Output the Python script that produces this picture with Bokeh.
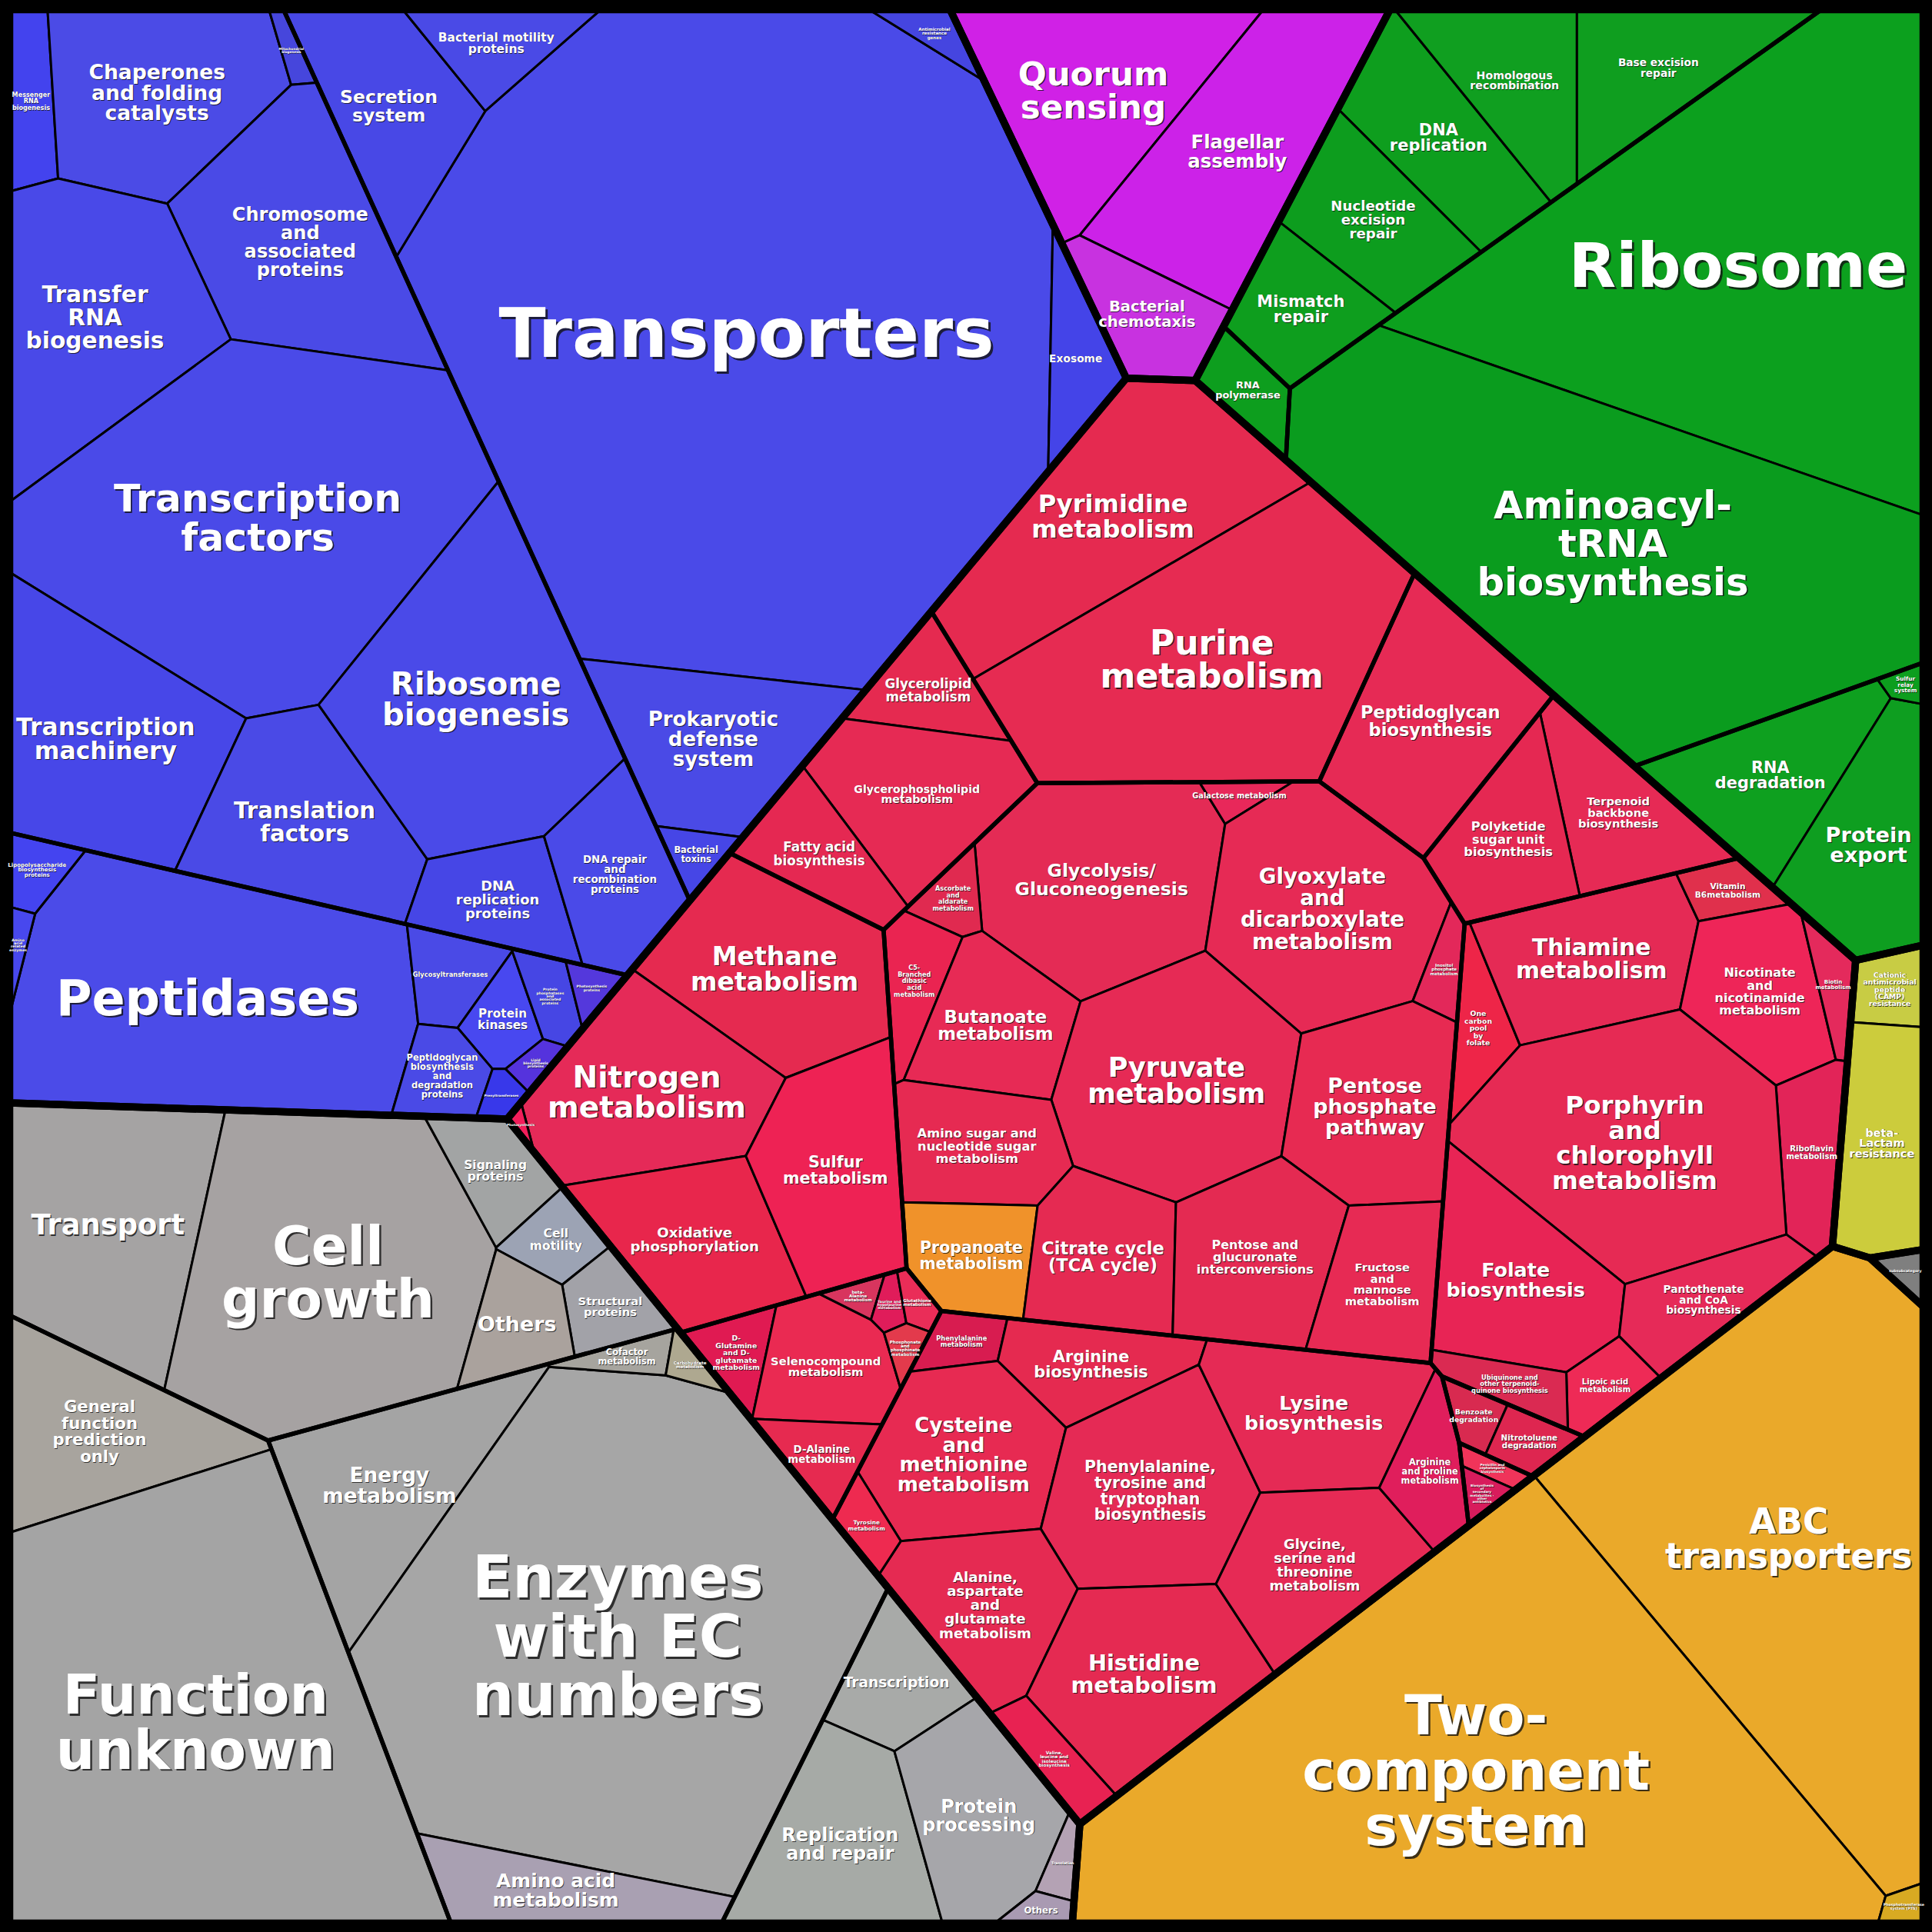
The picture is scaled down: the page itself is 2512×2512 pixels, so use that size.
import math
from bokeh.plotting import figure
from bokeh.models import ColumnDataSource, Range1d
from bokeh.core.properties import value, field
from bokeh.embed import file_html
from bokeh.resources import INLINE

# ---------------- data ----------------
top_groups = ["BRITE", "CellProc", "GenInfo", "Metab", "HumDis", "SubSub", "EnvInfo", "NotIncl"]

mid_groups = ["B_gen", "B_sig", "B_met",
              "G_transl", "G_rep", "G_transc", "G_fold",
              "M_nuc", "M_lip", "M_carb", "M_energy", "M_oaa", "M_aa", "M_cof", "M_xen", "M_sec", "M_terp", "M_glycan",
              "N_cell", "N_poor", "N_met", "N_gen"]
mid_parent = ["BRITE"] * 3 + ["GenInfo"] * 4 + ["Metab"] * 11 + ["NotIncl"] * 4

leaf_labels = [
    "Messenger\nRNA\nbiogenesis", "Chaperones\nand folding\ncatalysts", "Mitochondrial\nbiogenesis",
    "Chromosome\nand\nassociated\nproteins", "Transfer\nRNA\nbiogenesis", "Transcription\nfactors",
    "Transcription\nmachinery", "Translation\nfactors", "Ribosome\nbiogenesis", "DNA\nreplication\nproteins",
    "DNA repair\nand\nrecombination\nproteins",
    "Transporters", "Secretion\nsystem", "Bacterial motility\nproteins", "Antimicrobial\nresistance\ngenes",
    "Exosome", "Prokaryotic\ndefense\nsystem", "Bacterial\ntoxins",
    "Peptidases", "Lipopolysaccharide\nbiosynthesis\nproteins", "Amino\nacid\nrelated\nenzymes",
    "Glycosyltransferases", "Protein\nkinases", "Peptidoglycan\nbiosynthesis\nand\ndegradation\nproteins",
    "Protein\nphosphatases\nand\nassociated\nproteins", "Photosynthesis\nproteins", "Lipid\nbiosynthesis\nproteins",
    "Prenyltransferases",
    "Quorum\nsensing", "Flagellar\nassembly", "Bacterial\nchemotaxis",
    "Ribosome", "Aminoacyl-\ntRNA\nbiosynthesis", "DNA\nreplication", "Homologous\nrecombination",
    "Base excision\nrepair", "Nucleotide\nexcision\nrepair", "Mismatch\nrepair", "RNA\npolymerase",
    "RNA\ndegradation", "Protein\nexport", "Sulfur\nrelay\nsystem",
    "Pyrimidine\nmetabolism", "Purine\nmetabolism", "Glycerolipid\nmetabolism", "Glycerophospholipid\nmetabolism",
    "Fatty acid\nbiosynthesis", "Glycolysis/\nGluconeogenesis", "Galactose metabolism",
    "Glyoxylate\nand\ndicarboxylate\nmetabolism", "Inositol\nphosphate\nmetabolism", "Ascorbate\nand\naldarate\nmetabolism",
    "C5-\nBranched\ndibasic\nacid\nmetabolism", "Butanoate\nmetabolism", "Pyruvate\nmetabolism",
    "Pentose\nphosphate\npathway", "Amino sugar and\nnucleotide sugar\nmetabolism", "Propanoate\nmetabolism",
    "Citrate cycle\n(TCA cycle)", "Pentose and\nglucuronate\ninterconversions", "Fructose\nand\nmannose\nmetabolism",
    "Methane\nmetabolism", "Nitrogen\nmetabolism", "Photosynthesis", "Oxidative\nphosphorylation",
    "Sulfur\nmetabolism",
    "D-\nGlutamine\nand D-\nglutamate\nmetabolism", "Selenocompound\nmetabolism", "D-Alanine\nmetabolism",
    "beta-\nAlanine\nmetabolism", "Taurine and\nhypotaurine\nmetabolism", "Glutathione\nmetabolism",
    "Phosphonate\nand\nphosphinate\nmetabolism",
    "Phenylalanine\nmetabolism", "Arginine\nbiosynthesis", "Cysteine\nand\nmethionine\nmetabolism",
    "Phenylalanine,\ntyrosine and\ntryptophan\nbiosynthesis", "Lysine\nbiosynthesis",
    "Alanine,\naspartate\nand\nglutamate\nmetabolism", "Histidine\nmetabolism",
    "Glycine,\nserine and\nthreonine\nmetabolism", "Arginine\nand proline\nmetabolism",
    "Valine,\nleucine and\nisoleucine\nbiosynthesis", "Tyrosine\nmetabolism",
    "One\ncarbon\npool\nby\nfolate", "Thiamine\nmetabolism", "Vitamin\nB6metabolism",
    "Nicotinate\nand\nnicotinamide\nmetabolism", "Biotin\nmetabolism", "Riboflavin\nmetabolism",
    "Porphyrin\nand\nchlorophyll\nmetabolism", "Folate\nbiosynthesis", "Pantothenate\nand CoA\nbiosynthesis",
    "Lipoic acid\nmetabolism", "Ubiquinone and\nother terpenoid-\nquinone biosynthesis",
    "Benzoate\ndegradation", "Nitrotoluene\ndegradation",
    "Penicillin and\ncephalosporin\nbiosynthesis", "Biosynthesis\nof\nsecondary\nmetabolites -\nother\nantibiotics",
    "Terpenoid\nbackbone\nbiosynthesis", "Polyketide\nsugar unit\nbiosynthesis", "Peptidoglycan\nbiosynthesis",
    "Cationic\nantimicrobial\npeptide\n(CAMP)\nresistance", "beta-\nLactam\nresistance",
    "subsubcategory",
    "ABC\ntransporters", "Two-\ncomponent\nsystem", "Phosphotransferase\nsystem (PTS)",
    "Transport", "Cell\ngrowth", "Signaling\nproteins", "Cell\nmotility", "Structural\nproteins", "Others",
    "General\nfunction\nprediction\nonly", "Function\nunknown",
    "Energy\nmetabolism", "Enzymes\nwith EC\nnumbers", "Amino acid\nmetabolism", "Cofactor\nmetabolism",
    "Carbohydrate\nmetabolism",
    "Transcription", "Replication\nand repair", "Protein\nprocessing", "Translation", "Others",
]

leaf_parent = (["B_gen"] * 11 + ["B_sig"] * 7 + ["B_met"] * 10 + ["CellProc"] * 3
               + ["G_transl"] * 2 + ["G_rep"] * 5 + ["G_transc"] + ["G_fold"] * 3
               + ["M_nuc"] * 2 + ["M_lip"] * 3 + ["M_carb"] * 14 + ["M_energy"] * 5 + ["M_oaa"] * 7
               + ["M_aa"] * 11 + ["M_cof"] * 11 + ["M_xen"] * 2 + ["M_sec"] * 2 + ["M_terp"] * 2 + ["M_glycan"]
               + ["HumDis"] * 2 + ["SubSub"] + ["EnvInfo"] * 3
               + ["N_cell"] * 6 + ["N_poor"] * 2 + ["N_met"] * 5 + ["N_gen"] * 5)

leaf_values = [50, 240, 10, 293, 302, 784, 294, 218, 417, 93, 121,
               2253, 166, 66, 19, 62, 196, 20,
               571, 25, 9, 45, 35, 45, 26, 13, 10, 11,
               249, 283, 86,
               1010, 1037, 145, 130, 140, 130, 95, 40, 152, 162, 8,
               332, 534, 66, 163, 82,
               280, 13, 281, 22, 25, 49, 124, 295, 188, 121, 86, 135, 168, 111,
               231, 229, 3, 166, 190,
               34, 96, 42, 9, 9, 10, 10,
               26, 89, 182, 227, 168, 148, 214, 158, 59, 39, 22,
               45, 173, 28, 125, 25, 68, 412, 181, 88, 35, 35,
               18, 25, 9, 10, 119, 118, 222,
               33, 123, 10, 935, 1366, 9,
               308, 546, 61, 37, 47, 64, 193, 1023, 218, 1261, 110, 19, 11, 83, 183, 163, 14, 11]

# ---------------- layout hints (1568-unit canvas) ----------------
site_x = [24, 120, 222, 235, 75, 200, 95, 245, 380, 410, 500,
          615, 320, 400, 768, 878, 580, 568,
          165, 33, 15, 360, 405, 352, 448, 480, 433, 405,
          880, 1015, 970,
          1400, 1325, 1188, 1262, 1360, 1120, 1066, 1025, 1432, 1520, 1545,
          915, 985, 762, 752, 672,
          893, 1010, 1072, 1175, 777, 742, 810, 958, 1118, 797, 795, 905, 1025, 1125,
          618, 545, 424, 565, 686,
          595, 665, 662, 695, 718, 746, 732,
          772, 868, 785, 925, 1050, 795, 930, 1055, 1145, 858, 700,
          1207, 1297, 1410, 1425, 1488, 1472, 1330, 1237, 1370, 1297, 1222,
          1187, 1232, 1200, 1187, 1320, 1228, 1168,
          1537, 1528, 1543, 1440, 1207, 1540,
          82, 265, 402, 452, 492, 418, 72, 150, 310, 495, 455, 512, 557, 728, 672, 790, 862, 850]
site_y = [66, 60, 30, 180, 255, 425, 595, 665, 570, 722, 695,
          275, 95, 30, 28, 280, 595, 688,
          810, 705, 772, 788, 820, 865, 805, 797, 855, 883,
          60, 170, 262,
          215, 430, 100, 40, 40, 168, 237, 305, 625, 680, 545,
          415, 535, 553, 628, 688,
          712, 640, 740, 780, 722, 800, 828, 872, 898, 925, 1008, 1022, 1025, 1055,
          775, 878, 910, 1002, 950,
          1090, 1105, 1175, 1045, 1052, 1047, 1085,
          1078, 1100, 1185, 1220, 1160, 1300, 1365, 1283, 1205, 1430, 1238,
          815, 778, 725, 805, 790, 915, 925, 1040, 1055, 1128, 1130,
          1155, 1175, 1198, 1222, 660, 680, 585,
          795, 925, 1030, 1255, 1450, 1545,
          995, 1035, 960, 1015, 1065, 1078, 1175, 1420, 1205, 1335, 1535, 1102, 1110, 1377, 1505, 1472, 1503, 1548]
# power-diagram generator points for the group levels (unit layout, then placed on canvas)
top_site_unit = {"BRITE": (0.0, 0.0), "CellProc": (0.801, -0.383), "Metab": (0.767, 0.641),
                 "NotIncl": (-0.042, 1.298), "GenInfo": (1.393, -0.072), "EnvInfo": (1.352, 1.403),
                 "HumDis": (1.568, 0.706), "SubSub": (1.630, 1.097)}
TOP_ORIGIN = (330.0, 420.0)
TOP_SCALE = 670.0
mid_site = {"B_gen": (200, 400), "B_sig": (610, 213), "B_met": (110, 790),
            "M_cof": (1328, 895),
            "N_cell": (300, 1000), "N_poor": (82, 1450), "N_met": (391, 1333), "N_gen": (731, 1502)}

font_size = [5, 16.3, 2.6, 14.8, 18.2, 31, 19.3, 18, 24.7, 11, 8.2,
             55, 14.5, 9.5, 3.4, 8.5, 16, 7,
             39, 4.3, 2.9, 5.1, 9.4, 7.1, 2.8, 2.8, 2.8, 2.6,
             26.7, 15, 12,
             49, 30.5, 12.9, 8.7, 8.4, 11.2, 12.9, 7.9, 12.8, 16.7, 4.5,
             19.7, 27, 10.3, 8.7, 10.3,
             14.5, 6, 17, 3.4, 5, 5, 14, 21.5, 16.5, 10, 12.6, 13.8, 9.9, 9,
             20.3, 24, 2.6, 11.2, 12.7,
             5.7, 9.1, 8.2, 3.4, 2.8, 3.4, 3.4,
             5.1, 12.8, 16, 12.6, 15.6, 11.2, 17.7, 11, 7, 3.5, 4.5,
             5.7, 18.3, 6.5, 9.8, 4.3, 6.2, 20, 15.6, 8.4, 6.2, 5.1,
             5.7, 6.3, 2.6, 2.6, 9, 10, 13.9,
             5.7, 8.9, 2.9, 27.8, 44, 2.9,
             22.6, 42.4, 9.5, 9.6, 9, 16.5, 13, 43.5, 16.2, 47, 15.3, 7, 3.4, 11.4, 14.7, 14.7, 2.9, 7.1]
leaf_color = (["#4343ee", "#4b4be6", "#4646dc", "#4a4ae6", "#4949e8", "#4a4ae8", "#4747e8", "#4a4ae6", "#4a4ae8",
               "#4646e6", "#4a4ae8",
               "#4a4ae8", "#4848e6", "#4a4ae6", "#4545e0", "#4444e8", "#4a4ae6", "#4646e6",
               "#4b4be8", "#4444f0", "#4848ee", "#4a4ae6", "#4848f0", "#4a4ae6", "#4646e4", "#5438dc", "#5533dd",
               "#3838ea",
               "#d021e6", "#cc22e8", "#c832e0",
               "#0ca01e", "#0a9c1e", "#0e9e1e", "#109f20", "#0f9e1f", "#0d9d1e", "#0e9e1e", "#0d9e1e", "#0ea01f",
               "#0e9e20", "#0d9e1e",
               "#e52a50", "#e62b52", "#e52a50", "#e62a54", "#e52852",
               "#e42b55", "#e8285a", "#e62a55", "#e3285a", "#e02a50", "#ea2451", "#e72a55", "#e62a55", "#e72a52",
               "#e62a52", "#f0922a", "#e52a52", "#e42a52", "#e72a54",
               "#e52a50", "#e52a58", "#f21e5a", "#e8264c", "#ee2254",
               "#e01a52", "#ea2a52", "#e62a50", "#d8355e", "#e01c5a", "#ea2d58", "#e33a4c",
               "#d81c50", "#e52a50", "#e72a52", "#e52a55", "#e52a55", "#e52a52", "#e52a52", "#e62a55", "#e01e5c",
               "#e82252", "#ee2a50",
               "#ee2548", "#e52a55", "#e0304c", "#ee2558", "#e42a5c", "#e22458", "#e62a54", "#e82455", "#e62a58",
               "#ee2a56", "#da2a52",
               "#d82a50", "#de2650", "#f0345a", "#d81c5c", "#e62a55", "#e52852", "#e62a55",
               "#c8cc44", "#cccc3c", "#7f7f7f", "#eaa92a", "#eaa92a", "#d8aa22",
               "#a5a3a3", "#a6a2a2", "#a2a4a4", "#9ca3b4", "#a2a2a8", "#aaa29d", "#a8a49e", "#a4a4a4",
               "#a4a4a4", "#a6a6a6", "#a9a0b2", "#a6a49e", "#aea890", "#a8aaa8", "#a6aaa6", "#a6a6aa",
               "#b4a2b4", "#a99ab2"])

CANVAS = 1568.0
FRAME = (7.5, 1560.5)
SIZE = 2512
PX = SIZE / CANVAS
FONT_SCALE = 1.017
LINE_HEIGHT = 0.86   # bokeh multiplies by the font's ascent+descent (~1.16 em) -> ~1 em spacing


# ---------------- geometry helpers ----------------
def poly_area(P):
    s = 0.0
    n = len(P)
    for k in range(n):
        x1, y1 = P[k]
        x2, y2 = P[(k + 1) % n]
        s += x1 * y2 - x2 * y1
    return s / 2.0


def poly_centroid(P):
    a = 0.0
    cx = 0.0
    cy = 0.0
    n = len(P)
    for k in range(n):
        x1, y1 = P[k]
        x2, y2 = P[(k + 1) % n]
        cr = x1 * y2 - x2 * y1
        a += cr
        cx += (x1 + x2) * cr
        cy += (y1 + y2) * cr
    if abs(a) < 1e-9:
        return (sum(p[0] for p in P) / n, sum(p[1] for p in P) / n)
    return (cx / (3 * a), cy / (3 * a))


def inside(P, q):
    n = len(P)
    sgn = 0
    for k in range(n):
        x1, y1 = P[k]
        x2, y2 = P[(k + 1) % n]
        cr = (x2 - x1) * (q[1] - y1) - (y2 - y1) * (q[0] - x1)
        if abs(cr) < 1e-9:
            continue
        s = 1 if cr > 0 else -1
        if sgn == 0:
            sgn = s
        elif s != sgn:
            return False
    return True


def pull_inside(P, q):
    if inside(P, q):
        return q
    c = poly_centroid(P)
    lo, hi = 0.0, 1.0
    for _ in range(40):
        mid = (lo + hi) / 2
        t = (c[0] + mid * (q[0] - c[0]), c[1] + mid * (q[1] - c[1]))
        if inside(P, t):
            lo = mid
        else:
            hi = mid
    m = lo * 0.9
    return (c[0] + m * (q[0] - c[0]), c[1] + m * (q[1] - c[1]))


def clip(poly, labs, a, b, c, j):
    n = len(poly)
    out, olab = [], []
    for k in range(n):
        P = poly[k]
        Q = poly[(k + 1) % n]
        L = labs[k]
        fp = a * P[0] + b * P[1] - c
        fq = a * Q[0] + b * Q[1] - c
        if fp <= 0:
            out.append(P)
            olab.append(L)
            if fq > 0:
                t = fp / (fp - fq)
                out.append((P[0] + t * (Q[0] - P[0]), P[1] + t * (Q[1] - P[1])))
                olab.append(j)
        elif fq <= 0:
            t = fp / (fp - fq)
            out.append((P[0] + t * (Q[0] - P[0]), P[1] + t * (Q[1] - P[1])))
            olab.append(L)
    return out, olab


def power_cells(region, S, w):
    n = len(S)
    cells = []
    for i in range(n):
        poly = list(region)
        labs = [-1] * len(poly)
        xi, yi = S[i]
        for j in range(n):
            if j == i:
                continue
            xj, yj = S[j]
            a = 2 * (xj - xi)
            b = 2 * (yj - yi)
            c = (xj * xj + yj * yj) - (xi * xi + yi * yi) - w[j] + w[i]
            poly, labs = clip(poly, labs, a, b, c, j)
            if len(poly) < 3:
                poly, labs = [], []
                break
        cells.append((poly, labs))
    return cells


def power_layout(region, sites, vals, iters=160):
    n = len(sites)
    if n == 1:
        return [list(region)]
    A = abs(poly_area(region))
    tot = float(sum(vals))
    T = [A * v / tot for v in vals]
    S = [pull_inside(region, s) for s in sites]
    d2 = [[(S[i][0] - S[j][0]) ** 2 + (S[i][1] - S[j][1]) ** 2 for j in range(n)] for i in range(n)]
    mind = [math.sqrt(min(d2[i][j] for j in range(n) if j != i)) for i in range(n)]
    w = [0.0] * n
    cells = power_cells(region, S, w)
    for it in range(iters):
        new_w = list(w)
        for i in range(n):
            poly, labs = cells[i]
            ar = abs(poly_area(poly)) if poly else 0.0
            der = 0.0
            m = len(poly)
            for k in range(m):
                j = labs[k]
                if j >= 0:
                    P = poly[k]
                    Q = poly[(k + 1) % m]
                    der += math.hypot(Q[0] - P[0], Q[1] - P[1]) / (2 * math.sqrt(d2[i][j]))
            if ar <= 1e-6 or der <= 1e-9:
                new_w[i] = w[i] + math.sqrt(T[i]) * mind[i]
            else:
                dw = 0.55 * (T[i] - ar) / der
                cap = 0.3 * mind[i] ** 2
                dw = max(-cap, min(cap, dw))
                new_w[i] = w[i] + dw
        mean = sum(new_w) / n
        w = [x - mean for x in new_w]
        cells = power_cells(region, S, w)
    return [c[0] for c in cells]


# ---------------- build tree ----------------
children = {"ROOT": list(top_groups)}
for g in top_groups:
    children[g] = []
for g, par in zip(mid_groups, mid_parent):
    children[g] = []
    children[par].append(g)
for i, par in enumerate(leaf_parent):
    children[par].append(i)


def node_value(nd):
    if isinstance(nd, int):
        return leaf_values[nd]
    return sum(node_value(c) for c in children[nd])


def node_site(nd):
    if isinstance(nd, int):
        return (site_x[nd], site_y[nd])
    if nd in top_site_unit:
        u, v = top_site_unit[nd]
        return (TOP_ORIGIN[0] + TOP_SCALE * u, TOP_ORIGIN[1] + TOP_SCALE * v)
    if nd in mid_site:
        return mid_site[nd]
    tot = 0.0
    sx = 0.0
    sy = 0.0
    for c in children[nd]:
        v = node_value(c)
        s = node_site(c)
        sx += v * s[0]
        sy += v * s[1]
        tot += v
    return (sx / tot, sy / tot)


polys = {}


def recurse(nd, region):
    kids = children[nd]
    cells = power_layout(region, [node_site(k) for k in kids], [node_value(k) for k in kids],
                         iters=260 if nd == "ROOT" else 160)
    for k, cell in zip(kids, cells):
        polys[k] = cell
        if not isinstance(k, int) and cell:
            recurse(k, cell)


f0, f1 = FRAME
recurse("ROOT", [(f0, f0), (f1, f0), (f1, f1), (f0, f1)])

# ---------------- draw ----------------
p = figure(width=SIZE, height=SIZE, x_range=Range1d(0, CANVAS), y_range=Range1d(CANVAS, 0),
           output_backend="svg", toolbar_location=None, x_axis_type=None, y_axis_type=None,
           min_border=0)
p.grid.visible = False
p.outline_line_color = None
p.background_fill_color = "black"
p.border_fill_color = "black"

leaf_idx = [i for i in range(len(leaf_values)) if polys.get(i)]
leaf_src = ColumnDataSource(dict(
    xs=[[q[0] for q in polys[i]] for i in leaf_idx],
    ys=[[q[1] for q in polys[i]] for i in leaf_idx],
    color=[leaf_color[i] for i in leaf_idx],
))
p.patches("xs", "ys", source=leaf_src, fill_color="color", line_color="black", line_width=3,
          line_join="round")

mids = [g for g in mid_groups if polys.get(g)]
p.patches([[q[0] for q in polys[g]] for g in mids], [[q[1] for q in polys[g]] for g in mids],
          fill_alpha=0, line_color="black", line_width=5.5, line_join="round")
tops = [g for g in top_groups if polys.get(g)]
p.patches([[q[0] for q in polys[g]] for g in tops], [[q[1] for q in polys[g]] for g in tops],
          fill_alpha=0, line_color="black", line_width=9.5, line_join="round")

cx, cy, tx, fs, off = [], [], [], [], []
for i in leaf_idx:
    c = poly_centroid(polys[i])
    cx.append(c[0])
    cy.append(c[1])
    tx.append(leaf_labels[i])
    fpx = font_size[i] * PX * FONT_SCALE
    fs.append("%.1fpx" % fpx)
    off.append(max(0.7, min(3.5, fpx * 0.035)))
tsrc = ColumnDataSource(dict(x=cx, y=cy, t=tx, fs=fs, off=off))
p.text("x", "y", text="t", source=tsrc, text_font=value("DejaVu Sans"), text_font_style="bold",
       text_font_size=field("fs"), text_align="center", text_baseline="middle", text_color="#111111",
       text_alpha=0.8, text_line_height=LINE_HEIGHT, x_offset=field("off"), y_offset=field("off"))
p.text("x", "y", text="t", source=tsrc, text_font=value("DejaVu Sans"), text_font_style="bold",
       text_font_size=field("fs"), text_align="center", text_baseline="middle", text_color="white",
       text_line_height=LINE_HEIGHT)

page_style = "{% block preamble %}<style>html, body { background: #000000; }</style>{% endblock %}"
open("out.html", "w").write(file_html(p, INLINE, template=page_style))
